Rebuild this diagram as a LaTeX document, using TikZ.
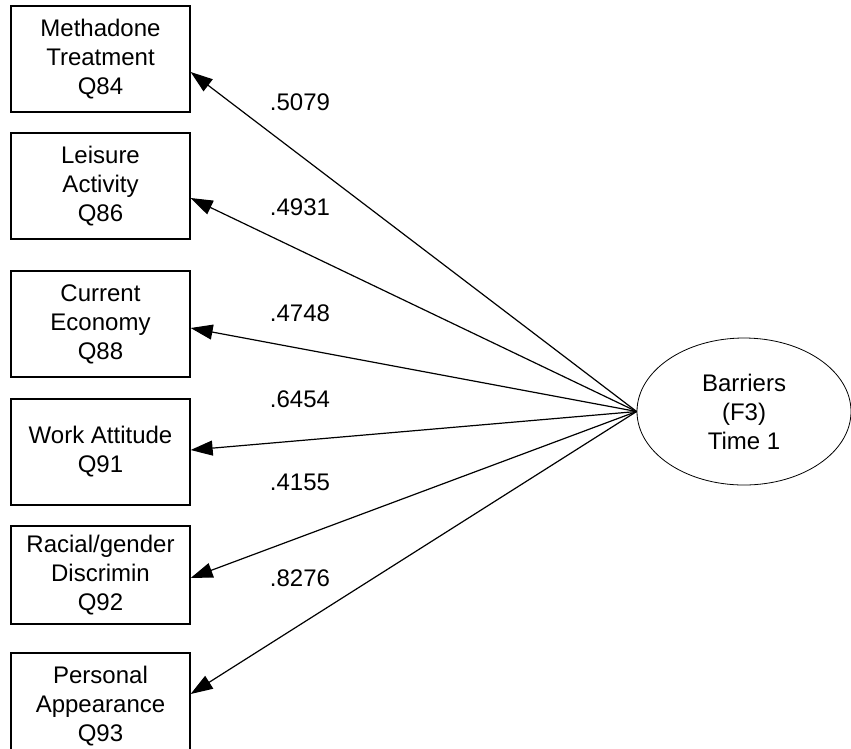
\documentclass[tikz,border=0pt]{standalone}
\usepackage{fontspec}
\setmainfont{Liberation Sans}
\usetikzlibrary{shapes.geometric,arrows.meta}
\begin{document}
\begin{tikzpicture}[x=1pt,y=-1pt,
  every node/.style={font=\fontsize{24}{29}\selectfont, inner sep=0pt},
  item/.style={draw, line width=1.3pt, minimum width=179pt, align=center},
  factor/.style={draw, ellipse, line width=0.8pt, minimum width=214pt, minimum height=147pt, align=center},
  loading/.style={anchor=center},
  path/.style={line width=1.2pt, -{Triangle[length=22pt,width=15pt]}}]
\useasboundingbox (0,0) rectangle (851,748);
\clip (0,0) rectangle (851,748);

% observed indicators
\node[item, minimum height=106pt] (b1) at (100.5,59) {Methadone\\Treatment\\Q84};
\node[item, minimum height=106pt] (b2) at (100.5,186) {Leisure\\Activity\\Q86};
\node[item, minimum height=106pt] (b3) at (100.5,324) {Current\\Economy\\Q88};
\node[item, minimum height=106pt] (b4) at (100.5,452) {Work Attitude\\Q91};
\node[item, minimum height=98pt]  (b5) at (100.5,575) {Racial/gender\\Discrimin\\Q92};
\node[item, minimum height=106pt] (b6) at (100.5,706) {Personal\\Appearance\\Q93};

% latent factor
\node[factor] (F) at (744,411.5) {Barriers\\(F3)\\Time 1};

% factor loadings
\draw[path] (F.west) -- ([yshift=-13pt]b1.east);
\draw[path] (F.west) -- ([yshift=-12pt]b2.east);
\draw[path] (F.west) -- ([yshift=-4pt]b3.east);
\draw[path] (F.west) -- ([yshift=2pt]b4.east);
\draw[path] (F.west) -- ([yshift=-3pt]b5.east);
\draw[path] (F.west) -- ([yshift=12pt]b6.east);

\node[loading] (l1) at (300,102) {.5079};
\node[loading] (l2) at (300,207) {.4931};
\node[loading] (l3) at (300,313) {.4748};
\node[loading] (l4) at (300,399) {.6454};
\node[loading] (l5) at (300,482) {.4155};
\node[loading] (l6) at (300,578) {.8276};
\end{tikzpicture}
\end{document}
